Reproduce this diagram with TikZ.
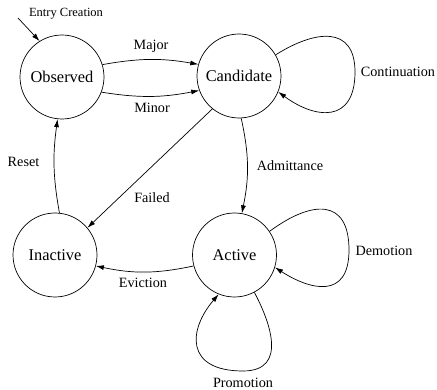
\documentclass[tikz,border=0pt]{standalone}
\usepackage{fontspec}
\setmainfont{Liberation Serif}
\usetikzlibrary{arrows.meta}
\begin{document}
\begin{tikzpicture}[x=1pt,y=-1pt,
  state/.style={circle,draw,line width=0.7pt,minimum size=84pt,inner sep=0pt,font=\fontsize{16.4}{18}\selectfont},
  lbl/.style={inner sep=0pt,font=\fontsize{14.2}{16}\selectfont},
  conn/.style={line width=0.7pt,-{Latex[length=8pt,width=5pt]}}]
\useasboundingbox (0,0) rectangle (437,390);
\node[state] (obs) at (62,77) {Observed};
\node[state] (cand) at (239,76) {Candidate};
\node[state] (inact) at (55,255) {Inactive};
\node[state] (act) at (234.5,255) {Active};
\coordinate (entry) at (18,18);
\node[inner sep=0pt,font=\fontsize{12.5}{14}\selectfont] (lentry) at (66,14) {Entry Creation};
\node[lbl] (lmajor) at (151,46) {Major};
\node[lbl] (lminor) at (152,108) {Minor};
\node[lbl] (lcont) at (398,72) {Continuation};
\node[lbl] (ladm) at (290,166) {Admittance};
\node[lbl] (lfail) at (152,198) {Failed};
\node[lbl] (lreset) at (23.5,162) {Reset};
\node[lbl] (levict) at (143,283) {Eviction};
\node[lbl] (ldem) at (384,251) {Demotion};
\node[lbl] (lprom) at (243,383) {Promotion};
\draw[conn] (entry) -- (obs.122);
\draw[conn] (obs.17) to[bend left=10] (cand.164);
\draw[conn] (obs.-21) to[bend right=10] (cand.200);
\draw[conn] (cand.30) .. controls (315,30) and (355,25) .. (355,72)
  .. controls (355,124) and (315,119) .. (cand.-22);
\draw[conn] (cand.-87) to[bend left=12] (act.80);
\draw[conn] (cand.-129) -- (inact.40);
\draw[conn] (act.195) to[bend left=12] (inact.-15);
\draw[conn] (inact.84.5) to[bend left=9] (obs.264.5);
\draw[conn] (act.34) .. controls (312,200) and (349,198) .. (349,250)
  .. controls (349,300) and (310,290) .. (act.-17);
\draw[conn] (act.-62) .. controls (268,318) and (290,371) .. (243,371)
  .. controls (185,371) and (188,330) .. (act.-112);
\end{tikzpicture}
\end{document}
